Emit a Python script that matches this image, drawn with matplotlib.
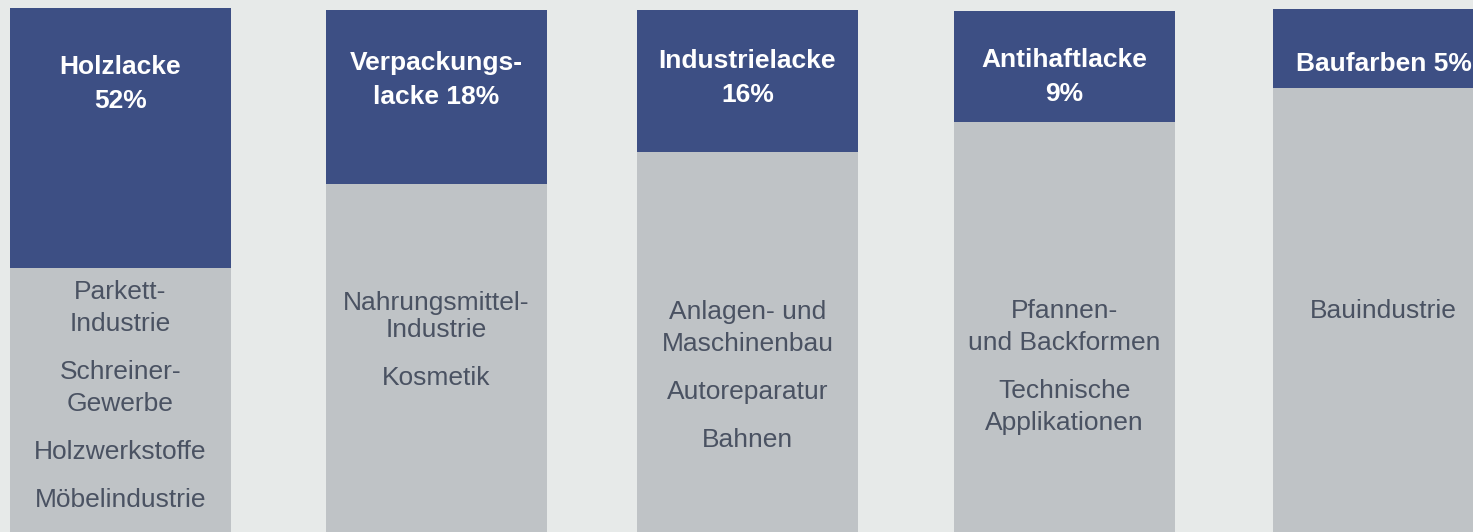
import matplotlib
matplotlib.use("Agg")
from matplotlib import pyplot as plt

# segment names and market share (header text), header block depth in px
headers = [["Holzlacke", "52%"],
           ["Verpackungs-", "lacke 18%"],
           ["Industrielacke", "16%"],
           ["Antihaftlacke", "9%"],
           ["Baufarben 5%"]]
header_bottom = [268, 184, 152, 122, 88]
header_top = [8, 10, 10, 11, 9]

# application areas per segment
items = [[["Parkett-", "Industrie"], ["Schreiner-", "Gewerbe"], ["Holzwerkstoffe"], ["Möbelindustrie"]],
         [["Nahrungsmittel-", "Industrie"], ["Kosmetik"]],
         [["Anlagen- und", "Maschinenbau"], ["Autoreparatur"], ["Bahnen"]],
         [["Pfannen-", "und Backformen"], ["Technische", "Applikationen"]],
         [["Bauindustrie"]]]
items_y0 = [292, 303, 312, 311, 311]
header_y0 = [67, 63, 61, 60, 64]

BLUE = "#3d4f84"
GRAY = "#bfc3c6"
BG = "#e7eae9"
TXT = "#4a5262"

plt.rcParams['font.family'] = ['Liberation Sans', 'DejaVu Sans']

W, H = 1473, 532
fig = plt.figure(figsize=(W / 100, H / 100), dpi=100)
fig.patch.set_facecolor(BG)
ax = fig.add_axes([0, 0, 1, 1])
ax.set_xlim(0, W)
ax.set_ylim(H, 0)
ax.axis("off")

col_left = [10, 326, 637, 954, 1273]
col_w = 221
for i in range(len(headers)):
    x0 = col_left[i]
    cx = x0 + col_w / 2
    # blue header block and gray body block
    ax.bar(x0, header_bottom[i] - header_top[i], width=col_w + (40 if i == 4 else 0),
           bottom=header_top[i], align="edge", color=BLUE, linewidth=0)
    ax.bar(x0, H - header_bottom[i], width=col_w + (40 if i == 4 else 0),
           bottom=header_bottom[i], align="edge", color=GRAY, linewidth=0)
    y = header_y0[i]
    for line in headers[i]:
        ax.text(cx, y, line, ha="center", va="center", color="white",
                fontsize=19, fontweight="bold")
        y += 34
    y = items_y0[i]
    step = 27 if i == 1 else 32
    for it in items[i]:
        for line in it:
            ax.text(cx, y, line, ha="center", va="center", color=TXT, fontsize=19)
            y += step
        y += 48 - step

fig.savefig("out.png", dpi=100, facecolor=BG)
